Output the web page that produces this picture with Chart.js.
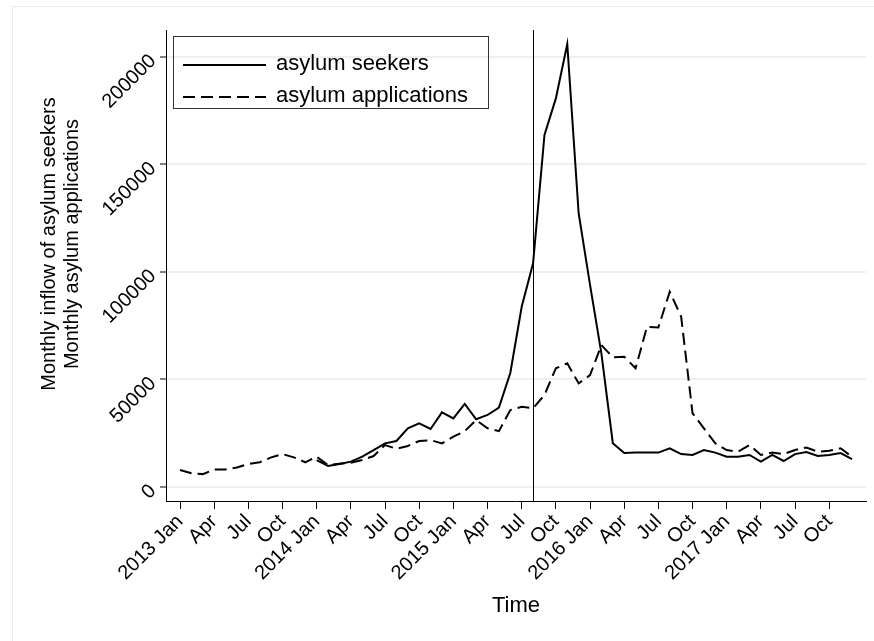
<!DOCTYPE html>
<html>
<head>
<meta charset="utf-8">
<script src="https://cdn.jsdelivr.net/npm/chart.js@4.4.0/dist/chart.umd.min.js"></script>
<style>
  html, body { margin: 0; padding: 0; background: #fff; }
  canvas { display: block; }
</style>
</head>
<body>
<canvas id="chartcanvas" width="874" height="641"></canvas>
<script>
// monthly values, Jan 2013 .. Dec 2017 (index 0..59)
var applications = [
	7900, 6400, 6000, 8100, 8200, 9100, 10700, 11500, 13800, 15300, 13800, 11500,
	14100, 10200, 10800, 11300, 12600, 14400, 19500, 17800, 19100, 21400, 21800, 20300,
	23400, 26000, 31100, 27300, 26000, 35800, 37300, 36600, 42800, 55200, 57500, 48200,
	52000, 66000, 60300, 60600, 55200, 74500, 74200, 90800, 79200, 34300, 27300, 20300,
	17200, 16400, 19500, 14900, 16000, 15300, 17200, 18400, 16400, 16900, 18000, 14100
];
// seekers only recorded from Jan 2014
var seekers = [
	null, null, null, null, null, null, null, null, null, null, null, null,
	12500, 9800, 10700, 11800, 14100, 17200, 20300, 21400, 27300, 29600, 27000, 34700,
	31900, 38600, 31500, 33500, 36900, 53000, 83800, 104000, 163700, 180700, 206000, 127300,
	94000, 62000, 20400, 15800, 16100, 16100, 16000, 18000, 15300, 14900, 17200, 16000,
	14100, 14100, 14900, 11800, 14900, 12100, 15300, 16300, 14400, 14900, 15800, 13000
];
var tickMonths = [0, 3, 6, 9, 12, 15, 18, 21, 24, 27, 30, 33, 36, 39, 42, 45, 48, 51, 54, 57];
var tickLabels = ['2013 Jan', 'Apr', 'Jul', 'Oct', '2014 Jan', 'Apr', 'Jul', 'Oct',
	'2015 Jan', 'Apr', 'Jul', 'Oct', '2016 Jan', 'Apr', 'Jul', 'Oct',
	'2017 Jan', 'Apr', 'Jul', 'Oct'];
var yTicks = [0, 50000, 100000, 150000, 200000];
var markMonth = 31; // Aug 2015

var FONT = '"Liberation Sans", Arial, sans-serif';

function toPoints(arr) {
	var out = [];
	for (var i = 0; i < arr.length; i++) {
		out.push({x: i, y: arr[i]});
	}
	return out;
}

var extras = {
	id: 'extras',
	beforeDraw: function(chart) {
		var c = chart.ctx;
		c.save();
		c.fillStyle = '#fff';
		c.fillRect(0, 0, chart.width, chart.height);
		c.strokeStyle = '#e6ecee';
		c.lineWidth = 1;
		c.strokeRect(12.5, 6.5, chart.width + 10, chart.height + 10);
		c.restore();
	},
	afterDraw: function(chart) {
		var c = chart.ctx;
		var xs = chart.scales.x, ys = chart.scales.y, area = chart.chartArea;
		c.save();

		// vertical marker
		var vx = Math.round(xs.getPixelForValue(markMonth)) + 0.5;
		c.strokeStyle = '#000';
		c.lineWidth = 1;
		c.beginPath();
		c.moveTo(vx, area.top);
		c.lineTo(vx, area.bottom);
		c.stroke();

		// y tick labels, rotated
		c.fillStyle = '#000';
		c.font = '20px ' + FONT;
		c.textAlign = 'right';
		c.textBaseline = 'middle';
		yTicks.forEach(function(v) {
			var py = ys.getPixelForValue(v);
			c.save();
			c.translate(area.left - 13, py + 1);
			c.rotate(-Math.PI / 4);
			c.fillText(String(v), 0, 0);
			c.restore();
		});

		// y title
		c.save();
		c.translate(49, 244);
		c.rotate(-Math.PI / 2);
		c.textAlign = 'center';
		c.fillText('Monthly inflow of asylum seekers', 0, 0);
		c.fillText('Monthly asylum applications', 0, 23);
		c.restore();

		// x title
		c.font = '22px ' + FONT;
		c.textAlign = 'center';
		c.fillText('Time', (area.left + area.right) / 2, 606);

		// legend
		c.strokeStyle = '#333';
		c.lineWidth = 1;
		c.strokeRect(173.5, 36.5, 315, 72);
		var rows = [65, 97];
		chart.data.datasets.forEach(function(ds, i) {
			c.strokeStyle = ds.borderColor;
			c.lineWidth = ds.borderWidth;
			c.setLineDash(ds.borderDash || []);
			c.beginPath();
			c.moveTo(183, rows[i]);
			c.lineTo(266, rows[i]);
			c.stroke();
			c.setLineDash([]);
			c.fillStyle = '#000';
			c.textAlign = 'left';
			c.fillText(ds.label, 276, rows[i] - 1);
		});
		c.restore();
	}
};

var ctx = document.getElementById('chartcanvas');

var chartdata = {
	datasets: [
		{
			label: 'asylum seekers',
			data: toPoints(seekers),
			borderColor: '#000',
			borderWidth: 2,
			pointRadius: 0,
			fill: false,
			tension: 0,
			spanGaps: false
		},
		{
			label: 'asylum applications',
			data: toPoints(applications),
			borderColor: '#000',
			borderWidth: 2,
			borderDash: [12, 6],
			pointRadius: 0,
			fill: false,
			tension: 0
		}
	]
};

var LineGraph = new Chart(ctx, {
	type: 'line',
	data: chartdata,
	options: {
		responsive: false,
		animation: false,
		layout: {padding: {top: 30, right: 8, left: 0, bottom: 0}},
		plugins: {legend: {display: false}, tooltip: {enabled: false}},
		scales: {
			x: {
				type: 'linear',
				min: -1.23,
				max: 60.23,
				afterBuildTicks: function(s) {
					s.ticks = tickMonths.map(function(v) { return {value: v}; });
				},
				afterFit: function(s) { s.height = 140; },
				ticks: {
					autoSkip: false,
					minRotation: 45,
					maxRotation: 45,
					padding: 1,
					color: '#000',
					font: {family: FONT, size: 20},
					callback: function(v) {
						var k = tickMonths.indexOf(v);
						return k >= 0 ? tickLabels[k] : '';
					}
				},
				grid: {drawOnChartArea: false, drawTicks: true, tickLength: 8, tickColor: '#000', tickWidth: 1},
				border: {color: '#000', width: 1}
			},
			y: {
				min: -6500,
				max: 212500,
				afterBuildTicks: function(s) {
					s.ticks = yTicks.map(function(v) { return {value: v}; });
				},
				afterFit: function(s) { s.width = 166; },
				ticks: {display: false},
				grid: {color: '#eaf1f3', lineWidth: 2, tickLength: 6, tickColor: '#000', tickWidth: 1},
				border: {color: '#000', width: 1}
			}
		}
	},
	plugins: [extras]
});
</script>
</body>
</html>
